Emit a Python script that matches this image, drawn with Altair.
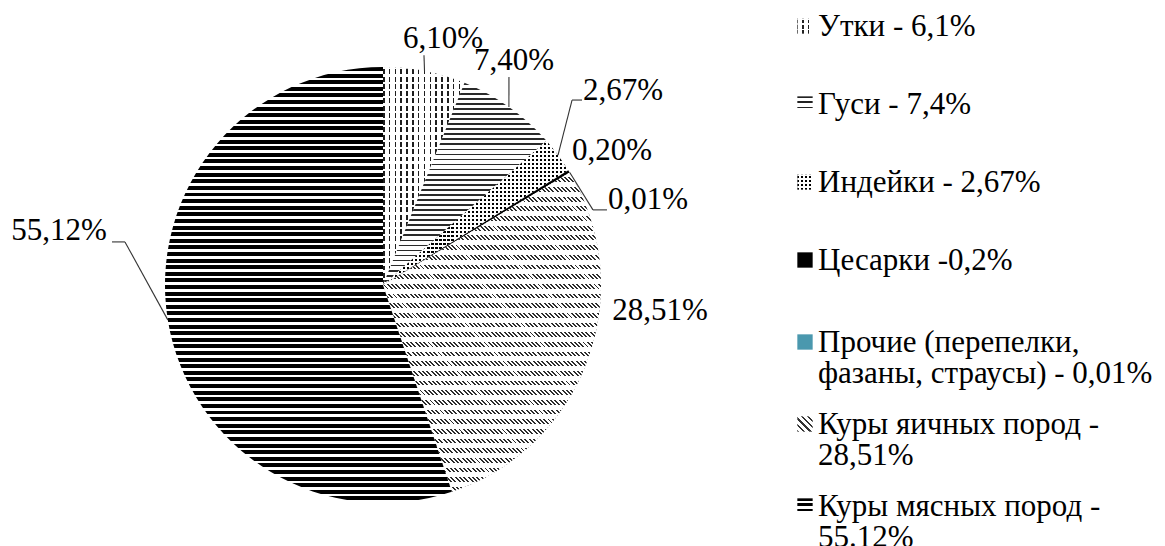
import math
import altair as alt
import pandas as pd

# ---------------- data ----------------
CATEGORIES = ["Утки", "Гуси", "Индейки", "Цесарки", "Прочие",
              "Куры яичных пород", "Куры мясных пород"]
SHARES = [6.10, 7.40, 2.67, 0.20, 0.01, 28.51, 55.12]
PIE_LABELS = ["6,10%", "7,40%", "2,67%", "0,20%", "0,01%", "28,51%", "55,12%"]
LEGEND_LABELS = [
    "Утки - 6,1%",
    "Гуси - 7,4%",
    "Индейки - 2,67%",
    "Цесарки -0,2%",
    "Прочие (перепелки,\nфазаны, страусы) - 0,01%",
    "Куры яичных пород -\n28,51%",
    "Куры мясных пород -\n55.12%",
]

TOTAL = sum(SHARES)
df = pd.DataFrame({
    "cat": CATEGORIES,
    "value": SHARES,
    "label": PIE_LABELS,
    "legend": LEGEND_LABELS,
    "order": list(range(len(CATEGORIES))),
})

# ---------------- layout / style ----------------
W, H = 1149, 538
CX, CY, R = 375, 277, 218
FONT = "'Liberation Serif', 'Times New Roman', 'DejaVu Serif', serif"
FS = 31
INK = "#000000"
CLEAR = "rgba(255,255,255,0)"
TEAL = "#4a98ae"


def stripes(n, frac, ink, paper="#ffffff", x1=0, y1=0, x2=0, y2=1):
    stops = []
    for k in range(n):
        a = round(k / n, 5)
        b = round((k + frac) / n, 5)
        c = round((k + 1) / n, 5)
        stops += [{"offset": a, "color": ink}, {"offset": b, "color": ink},
                  {"offset": b, "color": paper}, {"offset": c, "color": paper}]
    return {"gradient": "linear", "x1": x1, "y1": y1, "x2": x2, "y2": y2,
            "stops": stops}


def hbands(n, frac, ink, paper="#ffffff"):
    return stripes(n, frac, ink, paper, 0, 0, 0, 1)


def vbands(n, frac, ink, paper="#ffffff"):
    return stripes(n, frac, ink, paper, 0, 0, 1, 0)


SLICE_FILLS = {
    "Утки": [vbands(14, 0.26, "#1e1e1e"), hbands(30, 0.32, "#ffffff", CLEAR)],
    "Гуси": [hbands(40, 0.34, "#2a2a2a")],
    "Индейки": [vbands(46, 0.55, "#000000"), hbands(36, 0.45, "#ffffff", CLEAR)],
    "Цесарки": ["#000000"],
    "Прочие": [TEAL],
    "Куры яичных пород": [stripes(159, 0.45, "#2e2e2e", "#ffffff", 0, 1, 1, -0.463),
                          hbands(33, 0.5, "#ffffff", CLEAR)],
    "Куры мясных пород": [hbands(66, 0.6, "#000000")],
}

SYMBOL_FILLS = {
    "Утки": [vbands(3, 0.22, "#222222"), hbands(3, 0.3, "#ffffff", CLEAR)],
    "Гуси": [hbands(3, 0.3, "#222222")],
    "Индейки": [vbands(4, 0.5, "#000000"), hbands(4, 0.5, "#ffffff", CLEAR)],
    "Цесарки": ["#000000"],
    "Прочие": [TEAL],
    "Куры яичных пород": [stripes(5, 0.35, "#333333", "#ffffff", 0, 1, 1, 0)],
    "Куры мясных пород": [hbands(3, 0.55, "#000000")],
}

# label placement: (angle nudge in share units, label radius px, leader (dx, dy, kink) or None)
LABEL_LAYOUT = {
    "Утки": (0.76, 253, (-19, 16, 0)),
    "Гуси": (-1.38, 259.5, (-5, 16, 0)),
    "Индейки": (-0.65, 308.6, (-41, 9, -10)),
    "Цесарки": (0.30, 265.3, None),
    "Прочие": (3.68, 278.3, (-41, 10, -14)),
    "Куры яичных пород": (-4.14, 278.2, None),
    "Куры мясных пород": (5.19, 328.5, (53, 11, 13)),
}

theta_scale = alt.Scale(domain=[0, TOTAL], range=[0, 2 * math.pi])

base = (
    alt.Chart(df)
    .transform_window(cum="sum(value)", frame=[None, 0], sort=[alt.SortField("order")])
    .transform_calculate(start="datum.cum - datum.value")
    .transform_calculate(mid="datum.cum - datum.value / 2")
)

layers = []

# pie slices
for cat in CATEGORIES:
    for fill in SLICE_FILLS[cat]:
        layers.append(
            base.transform_filter(alt.datum.cat == cat)
            .mark_arc(radius=R, fill=fill, strokeWidth=0)
            .encode(
                theta=alt.Theta("start:Q", scale=theta_scale, stack=None),
                theta2="cum:Q",
                x=alt.value(CX),
                y=alt.value(CY),
            )
        )

# data labels + leader lines
for cat in CATEGORIES:
    nudge, lr, leader = LABEL_LAYOUT[cat]
    pos = (
        base.transform_filter(alt.datum.cat == cat)
        .transform_calculate(la=f"2*PI*(datum.mid + ({nudge}))/{TOTAL}")
        .transform_calculate(lx=f"{CX} + {lr}*sin(datum.la)")
        .transform_calculate(ly=f"{CY} - {lr}*cos(datum.la)")
    )
    layers.append(
        pos.mark_text(font=FONT, fontSize=FS, color=INK, align="center", baseline="middle")
        .encode(
            x=alt.X("lx:Q", scale=None, axis=None),
            y=alt.Y("ly:Q", scale=None, axis=None),
            text="label:N",
        )
    )
    if leader is not None:
        adx, ady, kink = leader
        lead = (
            pos.transform_calculate(a=f"2*PI*datum.mid/{TOTAL}")
            .transform_calculate(p1x=f"datum.lx + ({adx})")
            .transform_calculate(p1y=f"datum.ly + ({ady})")
            .transform_calculate(p2x=f"datum.p1x + ({kink})")
            .transform_calculate(ex=f"{CX} + {R}*sin(datum.a)")
            .transform_calculate(ey=f"{CY} - {R}*cos(datum.a)")
        )
        if kink:
            layers.append(
                lead.mark_rule(color="#333333", strokeWidth=1.1).encode(
                    x=alt.X("p1x:Q", scale=None, axis=None),
                    x2="p2x:Q",
                    y=alt.Y("p1y:Q", scale=None, axis=None),
                    y2="p1y:Q",
                )
            )
        layers.append(
            lead.mark_rule(color="#333333", strokeWidth=1.1).encode(
                x=alt.X("p2x:Q", scale=None, axis=None),
                x2="ex:Q",
                y=alt.Y("p1y:Q", scale=None, axis=None),
                y2="ey:Q",
            )
        )

# legend (built from the same table)
legend_y = alt.Y("order:Q", scale=alt.Scale(domain=[0, 3, 6], range=[18, 252, 498], nice=False, zero=False), axis=None)
for cat in CATEGORIES:
    for fill in SYMBOL_FILLS[cat]:
        layers.append(
            alt.Chart(df).transform_filter(alt.datum.cat == cat)
            .mark_square(size=235, fill=fill, strokeWidth=0, opacity=1, filled=True)
            .encode(x=alt.value(797), y=legend_y)
        )

layers.append(
    alt.Chart(df)
    .mark_text(align="left", baseline="alphabetic", dy=10, font=FONT, fontSize=FS,
               lineHeight=31, lineBreak="\n", color=INK)
    .encode(x=alt.value(810), y=legend_y, text="legend:N")
)

chart = (
    alt.layer(*layers)
    .resolve_scale(x="independent", y="independent")
    .properties(width=W, height=H, padding=0, autosize=alt.AutoSizeParams(type="none"))
    .configure_view(stroke=None)
)

chart.save("out.html", embed_options={"renderer": "svg", "actions": False})
